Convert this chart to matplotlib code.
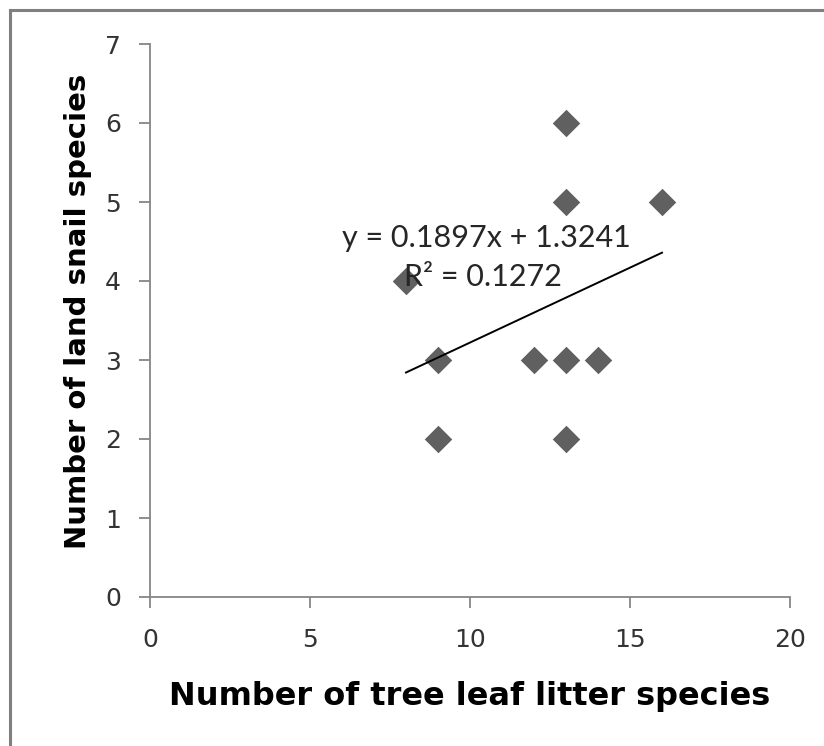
import numpy as np
import matplotlib
matplotlib.use("Agg")
import matplotlib.pyplot as plt
from matplotlib.lines import Line2D

# leaf litter species vs land snail species
litter_species = [8, 9, 9, 12, 13, 13, 13, 13, 14, 16]
snail_species = [4, 3, 2, 3, 6, 5, 3, 2, 3, 5]

eq_text = "y = 0.1897x + 1.3241"
r2_text = "R² = 0.1272"

x_ticks = [0, 5, 10, 15, 20]
y_ticks = [0, 1, 2, 3, 4, 5, 6, 7]

GRIS_EIXO = "#868686"
GRIS_PONTO = "#606060"

fig = plt.figure(figsize=(8.24, 7.46), dpi=100)
fig.patch.set_facecolor("white")

# moldura cinza (só topo e esquerda aparecem)
bx, by = 9.5 / 824, 1 - 9.5 / 746
fig.add_artist(Line2D([bx, 1.0], [by, by], transform=fig.transFigure,
                      color="#7f7f7f", linewidth=2.2))
fig.add_artist(Line2D([bx, bx], [0.0, by], transform=fig.transFigure,
                      color="#7f7f7f", linewidth=2.2))

ax = fig.add_axes([150 / 824, (746 - 597) / 746, 640 / 824, 553 / 746])

ax.scatter(litter_species, snail_species, marker="D", s=14 ** 2,
           color=GRIS_PONTO, linewidths=0, zorder=3)

# linha de tendência linear
a, b = np.polyfit(litter_species, snail_species, 1)
xs = np.array([min(litter_species), max(litter_species)])
ax.plot(xs, a * xs + b, color="black", linewidth=1.4, zorder=4)

ax.text(10.5, 4.54, eq_text, ha="center", va="center", fontsize=22,
        family="Lato", color="#262626", zorder=5)
ax.text(10.4, 4.05, r2_text, ha="center", va="center", fontsize=22,
        family="Lato", color="#262626", zorder=5)

ax.set_xlim(0, 20)
ax.set_ylim(0, 7)
ax.set_xticks(x_ticks)
ax.set_yticks(y_ticks)

for s in ["top", "right"]:
    ax.spines[s].set_visible(False)
for s in ["left", "bottom"]:
    ax.spines[s].set_color(GRIS_EIXO)
    ax.spines[s].set_linewidth(1.3)

ax.tick_params(axis="both", direction="out", length=8, width=1.3,
               color=GRIS_EIXO, labelsize=18, labelcolor="#333333")
ax.tick_params(axis="x", pad=14)
ax.tick_params(axis="y", pad=13)

ax.set_xlabel("Number of tree leaf litter species", fontsize=23,
              fontweight="bold", labelpad=21)
ax.set_ylabel("Number of land snail species", fontsize=21,
              fontweight="bold", labelpad=9)
ax.yaxis.label.set_y(0.517)

plt.savefig("out.png", dpi=100, facecolor=fig.get_facecolor())
